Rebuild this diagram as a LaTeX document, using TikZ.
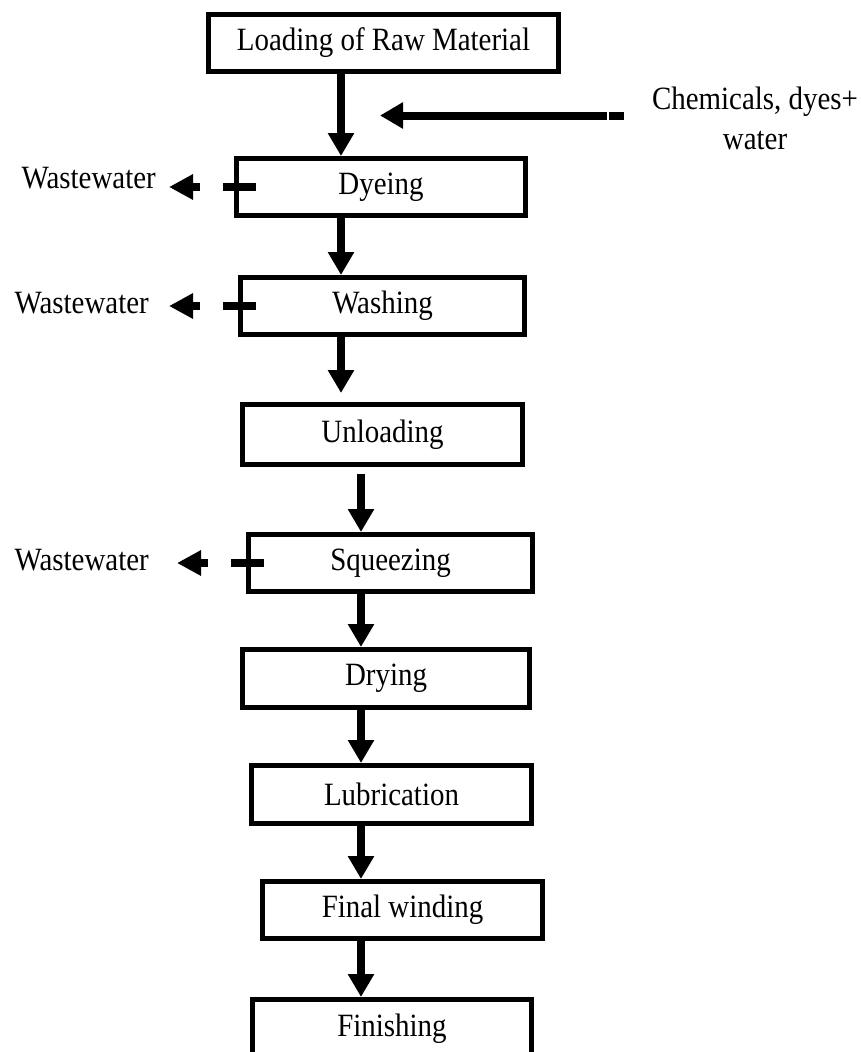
\documentclass[tikz,border=0pt]{standalone}
\usepackage{fontspec}
\setmainfont{Liberation Serif}[FakeStretch=0.89]
\usetikzlibrary{arrows.meta}
\tikzset{
  stepbox/.style={draw, line width=5pt, inner sep=0pt, minimum height=57pt,
                  font=\fontsize{32.5}{36}\selectfont},
  flow/.style   ={-{Triangle[length=23pt, width=25pt]}, line width=8pt},
  drain/.style  ={-{Triangle[length=24pt, width=24pt]}, line width=8pt,
                  dash pattern=on 33pt off 23pt on 300pt},
  lab/.style    ={font=\fontsize{32.5}{40}\selectfont, inner sep=0pt},
}

\begin{document}
\begin{tikzpicture}[x=1pt, y=-1pt]
  \useasboundingbox (0,0) rectangle (861,1052);
  % ---- process steps
  \node[stepbox, minimum width=350pt] (load)    at (383.5,43)    {Loading of Raw Material};
  \node[stepbox, minimum width=289pt] (dye)     at (381,187)     {Dyeing};
  \node[stepbox, minimum width=284pt] (wash)    at (382.5,306)   {Washing};
  \node[stepbox, minimum width=280pt, minimum height=60pt]
                                      (unload)  at (382.5,434.5) {Unloading};
  \node[stepbox, minimum width=284pt] (squeeze) at (390.5,563)   {Squeezing};
  \node[stepbox, minimum width=287pt, minimum height=58pt]
                                      (dry)     at (386,678.5)   {Drying};
  \node[stepbox, minimum width=280pt, minimum height=58pt]
                                      (lube)    at (391.5,794.5) {Lubrication};
  \node[stepbox, minimum width=280pt] (wind)    at (402.5,910)   {Final winding};
  \node[stepbox, minimum width=279pt, minimum height=58pt]
                                      (finish)  at (392,1028.5)  {Finishing};
  % ---- main flow
  \coordinate (trunk)  at (341,0);
  \coordinate (trunkb) at (361,0);
  \draw[flow] (load.south -| trunk) -- (dye.north -| trunk);
  \draw[flow] (dye.south -| trunk) -- (wash.north -| trunk);
  \draw[flow, shorten >=9pt] (wash.south -| trunk) -- (unload.north -| trunk);
  \draw[flow, shorten <=7pt] (unload.south -| trunkb) -- (squeeze.north -| trunkb);
  \draw[flow] (squeeze.south -| trunkb) -- (dry.north -| trunkb);
  \draw[flow] (dry.south -| trunkb) -- (lube.north -| trunkb);
  \draw[flow] (lube.south -| trunkb) -- (wind.north -| trunkb);
  \draw[flow] (wind.south -| trunkb) -- (finish.north -| trunkb);
  % ---- input
  \node[lab, align=center, anchor=north] (chem) at (755,87) {Chemicals, dyes+\\water};
  \coordinate (feed) at (624,115.5);
  \draw[flow, dash pattern=on 15pt off 2pt on 400pt]
    (feed) -- ([xshift=39pt]trunk |- feed);
  % ---- wastewater outlets
  \node[lab, anchor=base east] (w1) at (156,188) {Wastewater};
  \node[lab, anchor=base east] (w2) at (149,313) {Wastewater};
  \node[lab, anchor=base east] (w3) at (149,570) {Wastewater};
  \draw[drain] ([xshift=22pt]dye.west) -- ([xshift=13pt]dye.west -| w1.east);
  \draw[drain] ([xshift=18pt]wash.west) -- ([xshift=20pt]wash.west -| w2.east);
  \draw[drain] ([xshift=18pt]squeeze.west) -- ([xshift=28pt]squeeze.west -| w3.east);
\end{tikzpicture}
\end{document}
